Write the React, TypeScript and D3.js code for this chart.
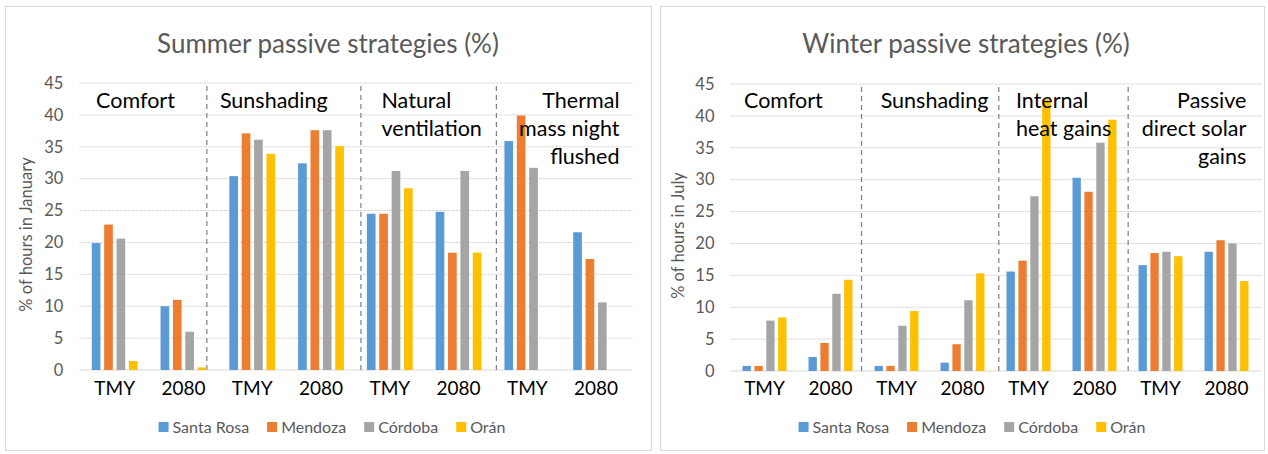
import * as d3 from "d3";

const series = ["Santa Rosa", "Mendoza", "Córdoba", "Orán"];
const seriesColors = ["#5B9BD5", "#ED7D31", "#A5A5A5", "#FFC000"];
const periods = ["TMY", "2080"];
const yTicks = [0, 5, 10, 15, 20, 25, 30, 35, 40, 45];

// summer: Comfort, Sunshading, Natural ventilation, Thermal mass night flushed (TMY, 2080 each)
const summerStrategies = ["Comfort", "Sunshading", "Natural ventilation", "Thermal mass night flushed"];
const summerSantaRosa = [19.9, 10.0, 30.4, 32.4, 24.5, 24.8, 35.9, 21.6];
const summerMendoza = [22.8, 11.0, 37.1, 37.6, 24.5, 18.4, 39.9, 17.4];
const summerCordoba = [20.6, 6.0, 36.1, 37.6, 31.2, 31.2, 31.7, 10.6];
const summerOran = [1.4, 0.4, 33.9, 35.1, 28.5, 18.4, 0, 0];

// winter: Comfort, Sunshading, Internal heat gains, Passive direct solar gains
const winterStrategies = ["Comfort", "Sunshading", "Internal heat gains", "Passive direct solar gains"];
const winterSantaRosa = [0.8, 2.2, 0.8, 1.3, 15.6, 30.3, 16.6, 18.7];
const winterMendoza = [0.8, 4.4, 0.8, 4.2, 17.3, 28.1, 18.5, 20.5];
const winterCordoba = [7.9, 12.1, 7.1, 11.1, 27.4, 35.8, 18.7, 20.0];
const winterOran = [8.4, 14.3, 9.4, 15.3, 42.6, 39.4, 18.0, 14.1];

const FONT = "Lato, 'Open Sans', sans-serif";

let measureCtx: CanvasRenderingContext2D | null = null;
function textWidth(t: string, size: number) {
  if (!measureCtx) measureCtx = document.createElement("canvas").getContext("2d");
  if (!measureCtx) return t.length * size * 0.5;
  measureCtx.font = `${size}px ${FONT}`;
  return measureCtx.measureText(t).width;
}

type Label = { lines: string[]; at: number; anchor: "start" | "end" };

function Panel({ box, plot, title, titleX, yLabel, legendX, strategies, values, dividers, labels }: any) {
  const groups = strategies.flatMap((s: string) => periods.map((p) => s + "|" + p));
  const x0 = d3.scaleBand().domain(groups).range([plot.x0, plot.x1]);
  const bw = x0.bandwidth();
  const step1 = bw * 0.18;
  const x1 = d3
    .scaleBand()
    .domain(series)
    .range([bw / 2 - 2 * step1, bw / 2 + 2 * step1])
    .paddingInner(0.3)
    .paddingOuter(0.15);
  const y = d3.scaleLinear().domain([0, 45]).range([plot.y0, plot.y1]);
  // position along the band axis in group units
  const gx = (u: number) => plot.x0 + u * bw;

  const legendSize = 16;
  const items = series.map((s) => 14 + textWidth(s, legendSize));
  const gap = 18;
  const total = d3.sum(items) + gap * (items.length - 1);
  let lx = legendX - total / 2;
  const legendPos = items.map((w) => {
    const p = lx;
    lx += w + gap;
    return p;
  });

  return (
    <g fontFamily={FONT}>
      <rect x={box.x} y={box.y} width={box.w} height={box.h} fill="#fff" stroke="#d9d9d9" />
      <text x={titleX} y={53} textAnchor="middle" fontSize={26} fill="#595959">
        {title}
      </text>
      {yTicks.map((t) => (
        <g key={t}>
          {t > 0 && (
            <line x1={plot.x0 - 1} x2={plot.x1 + 2} y1={y(t)} y2={y(t)} stroke="#d6d6d6" strokeDasharray="3,1" />
          )}
          <text x={plot.x0 - 17} y={y(t)} dy="0.35em" textAnchor="end" fontSize={16.5} fill="#595959">
            {t}
          </text>
        </g>
      ))}
      <line x1={plot.x0 - 1} x2={plot.x1 + 2} y1={y(0)} y2={y(0)} stroke="#d9d9d9" />
      <text
        transform={`translate(${plot.x0 - 48},${y(22.5) + 8}) rotate(-90)`}
        textAnchor="middle"
        fontSize={16.5}
        fill="#595959"
      >
        {yLabel}
      </text>
      {dividers.map((u: number, i: number) => (
        <line
          key={i}
          x1={gx(u)}
          x2={gx(u)}
          y1={y(45) + 3}
          y2={y(0) + 3}
          stroke="#7f7f7f"
          strokeWidth={1.2}
          strokeDasharray="5,4"
        />
      ))}
      {groups.map((g: string, gi: number) => (
        <g key={g} transform={`translate(${x0(g)},0)`}>
          {series.map((s, si) => {
            const v = values[si][gi];
            if (!v) return null;
            return (
              <rect
                key={s}
                x={x1(s)}
                y={y(v)}
                width={x1.bandwidth()}
                height={y(0) - y(v)}
                fill={seriesColors[si]}
              />
            );
          })}
          <text x={bw / 2} y={395} textAnchor="middle" fontSize={19} fill="#000">
            {g.split("|")[1]}
          </text>
        </g>
      ))}
      {labels.map((l: Label, i: number) => (
        <text key={i} x={gx(l.at)} textAnchor={l.anchor} fontSize={21.5} fill="#000">
          {l.lines.map((line, li) => (
            <tspan key={li} x={gx(l.at)} y={108 + li * 28}>
              {line}
            </tspan>
          ))}
        </text>
      ))}
      {series.map((s, i) => (
        <g key={s} transform={`translate(${legendPos[i]},427)`}>
          <rect x={0} y={-5} width={10} height={10} fill={seriesColors[i]} />
          <text x={14} dy="0.35em" fontSize={legendSize} fill="#595959">
            {s}
          </text>
        </g>
      ))}
    </g>
  );
}

export default function App() {
  return (
    <svg width={1268} height={454} style={{ position: "absolute", left: 0, top: 0, background: "#fff" }}>
      <Panel
        box={{ x: 5.5, y: 6.5, w: 646, h: 444 }}
        plot={{ x0: 80.3, x1: 630.5, y0: 370, y1: 83 }}
        title="Summer passive strategies (%)"
        titleX={328}
        yLabel="% of hours in January"
        legendX={332}
        strategies={summerStrategies}
        values={[summerSantaRosa, summerMendoza, summerCordoba, summerOran]}
        dividers={[1.84, 4.08, 6.05]}
        labels={[
          { lines: ["Comfort"], at: 0.23, anchor: "start" },
          { lines: ["Sunshading"], at: 2.03, anchor: "start" },
          { lines: ["Natural", "ventilation"], at: 4.38, anchor: "start" },
          { lines: ["Thermal", "mass night", "flushed"], at: 7.84, anchor: "end" },
        ]}
      />
      <Panel
        box={{ x: 660.5, y: 6.5, w: 604, h: 444 }}
        plot={{ x0: 731.5, x1: 1259.5, y0: 371, y1: 84 }}
        title="Winter passive strategies (%)"
        titleX={966}
        yLabel="% of hours in July"
        legendX={972}
        strategies={winterStrategies}
        values={[winterSantaRosa, winterMendoza, winterCordoba, winterOran]}
        dividers={[1.97, 4.05, 6.01]}
        labels={[
          { lines: ["Comfort"], at: 0.19, anchor: "start" },
          { lines: ["Sunshading"], at: 2.26, anchor: "start" },
          { lines: ["Internal", "heat gains"], at: 4.31, anchor: "start" },
          { lines: ["Passive", "direct solar", "gains"], at: 7.8, anchor: "end" },
        ]}
      />
    </svg>
  );
}
